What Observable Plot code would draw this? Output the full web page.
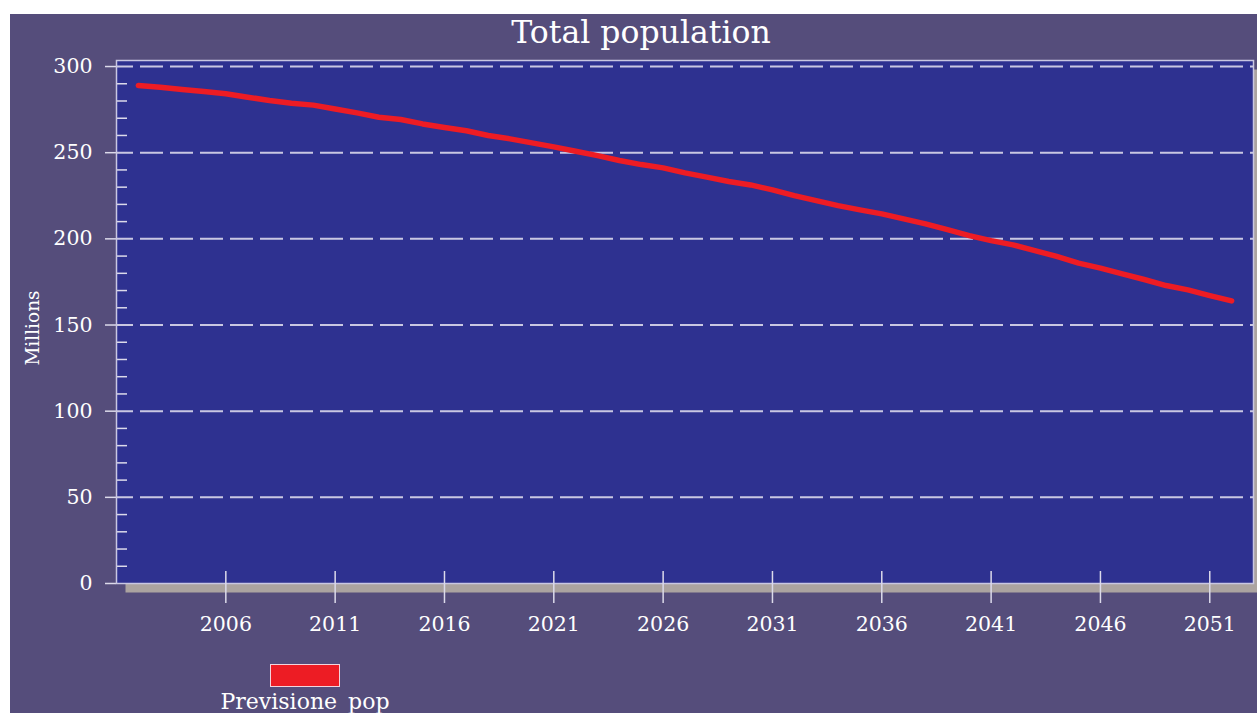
<!DOCTYPE html>
<html>
<head>
<meta charset="utf-8">
<script src="https://cdn.jsdelivr.net/npm/d3@7"></script>
<script src="https://cdn.jsdelivr.net/npm/@observablehq/plot@0.6"></script>
<style>
  html, body { margin: 0; padding: 0; background: #ffffff; }
  #wrap { position: relative; width: 1257px; height: 713px; overflow: hidden; background: #ffffff; }
  #bg { position: absolute; left: 10px; top: 14px; right: 0; bottom: 0; background: #554D7B; }
  #chart { position: absolute; left: 0; top: 0; }
  .txt { position: absolute; color: #ffffff; font-family: "DejaVu Serif", serif; white-space: nowrap; line-height: 1; }
  #title { left: 641px; top: 17px; font-size: 31.5px; transform: translateX(-50%); }
  #ylab { left: 33px; top: 328px; font-size: 18.5px; transform: translate(-50%, -50%) rotate(-90deg); }
  #legsw { position: absolute; left: 270px; top: 664px; width: 68px; height: 21px; background: #ED1C24; border: 1px solid #F2D4DC; }
  #legtx { left: 305px; top: 691px; font-size: 22px; transform: translateX(-50%); }
</style>
</head>
<body>
<div id="wrap">
  <div id="bg"></div>
  <div id="chart"></div>
  <div class="txt" id="title"></div>
  <div class="txt" id="ylab"></div>
  <div id="legsw"></div>
  <div class="txt" id="legtx"></div>
</div>
<script>
const titleText = "Total population";
const yLabel = "Millions";
const seriesName = "Previsione_pop";

const years = [2002, 2003, 2004, 2005, 2006, 2007, 2008, 2009, 2010, 2011,
  2012, 2013, 2014, 2015, 2016, 2017, 2018, 2019, 2020, 2021,
  2022, 2023, 2024, 2025, 2026, 2027, 2028, 2029, 2030, 2031,
  2032, 2033, 2034, 2035, 2036, 2037, 2038, 2039, 2040, 2041,
  2042, 2043, 2044, 2045, 2046, 2047, 2048, 2049, 2050, 2051, 2052];
const population = [289.0, 288.0, 286.7, 285.5, 284.2, 282.2, 280.3, 278.7, 277.6, 275.4,
  273.1, 270.6, 269.3, 266.7, 264.6, 262.7, 260.0, 258.0, 255.7, 253.4,
  250.8, 248.3, 245.5, 243.1, 241.2, 238.3, 235.8, 233.3, 231.3, 228.4,
  225.1, 222.2, 219.3, 216.8, 214.5, 211.6, 208.7, 205.4, 201.9, 199.0,
  196.5, 193.2, 189.8, 185.9, 183.0, 179.7, 176.4, 172.9, 170.4, 167.1, 164.0];

const xTicks = [2006, 2011, 2016, 2021, 2026, 2031, 2036, 2041, 2046, 2051];
const yTicks = [0, 50, 100, 150, 200, 250, 300];
const yGrid = [50, 100, 150, 200, 250, 300];
const yMinor = [10, 20, 30, 40, 60, 70, 80, 90, 110, 120, 130, 140, 160, 170, 180, 190,
  210, 220, 230, 240, 260, 270, 280, 290];

const data = years.map((yr, i) => ({year: yr, value: population[i]}));

const tickColor = "#DCDAEA";
const gridColor = "#C9C7E2";

const chart = Plot.plot({
  width: 1257,
  height: 713,
  marginLeft: 116,
  marginRight: 4,
  marginTop: 60,
  marginBottom: 130,
  style: {background: "transparent", fontFamily: "DejaVu Serif", fontSize: "20.5px", color: "#ffffff", overflow: "visible"},
  x: {domain: [2001, 2053], label: null},
  y: {domain: [0, 303.5], label: null},
  marks: [
    Plot.frame({fill: "#ABA3A0", dx: 9, dy: 9}),
    Plot.frame({fill: "#2E3190"}),
    Plot.gridY(yGrid, {stroke: gridColor, strokeOpacity: 1, strokeWidth: 2, strokeDasharray: "23,7", strokeDashoffset: 6}),
    Plot.axisY(yTicks, {tickSize: 11, tickPadding: 13, stroke: tickColor, strokeWidth: 1.5, fill: "#ffffff", label: null, tickFormat: d => String(d)}),
    Plot.axisY(yMinor, {tickSize: 11, dx: 11, stroke: tickColor, strokeWidth: 1.5, label: null, tickFormat: () => ""}),
    Plot.frame({stroke: gridColor, strokeWidth: 1.5}),
    Plot.axisX(xTicks, {tickSize: 32, dy: -12, stroke: tickColor, strokeWidth: 1.5, label: null, tickFormat: () => ""}),
    Plot.axisX(xTicks, {tickSize: 0, tickPadding: 33, fill: "#ffffff", label: null, tickFormat: d => String(d)}),
    Plot.line(data, {x: "year", y: "value", stroke: "#ED1C24", strokeWidth: 5.5})
  ]
});
document.getElementById("chart").appendChild(chart);
document.getElementById("title").textContent = titleText;
document.getElementById("ylab").textContent = yLabel;
document.getElementById("legtx").textContent = seriesName;
</script>
</body>
</html>
